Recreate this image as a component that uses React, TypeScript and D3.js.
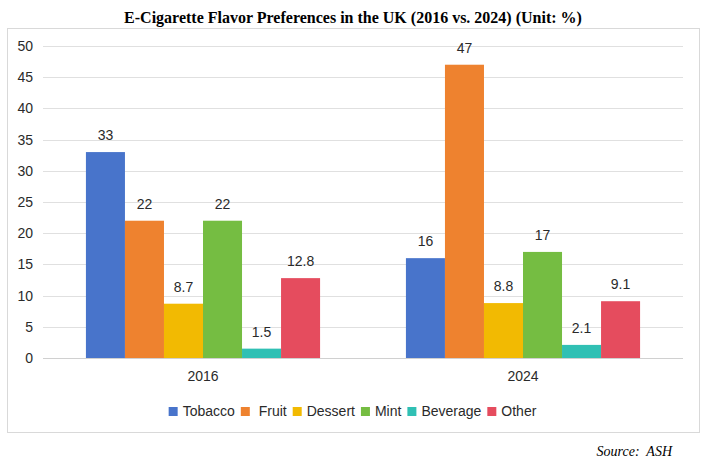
import React, { useEffect, useRef } from "react";
import * as d3 from "d3";

const years = ["2016", "2024"];
const flavors = ["Tobacco", "Fruit", "Dessert", "Mint", "Beverage", "Other"];
const legendLabels = ["Tobacco", " Fruit", "Dessert", "Mint", "Beverage", "Other"];
const values2016 = [33, 22, 8.7, 22, 1.5, 12.8];
const values2024 = [16, 47, 8.8, 17, 2.1, 9.1];
const seriesByYear = [values2016, values2024];
const colors = ["#4874CB", "#EE822F", "#F2BA02", "#75BD42", "#30C0B4", "#E54C5E"];
const yTicks = [0, 5, 10, 15, 20, 25, 30, 35, 40, 45, 50];

const W = 706;
const H = 462;
const sans = "'Liberation Sans', Arial, Helvetica, sans-serif";
const serif = "'Liberation Serif', 'Times New Roman', serif";

export default function App() {
  const ref = useRef<SVGSVGElement | null>(null);

  useEffect(() => {
    document.body.style.margin = "0";
    const svg = d3.select(ref.current);
    svg.selectAll("*").remove();

    const left = 43, right = 683, top = 46, bottom = 358;
    const y = d3.scaleLinear().domain([0, 50]).range([bottom, top]);
    const x0 = d3.scaleBand<string>().domain(years).range([left, right]).padding(0);
    const x1 = d3
      .scaleBand<string>()
      .domain(flavors)
      .range([0, x0.bandwidth()])
      .paddingInner(0)
      .paddingOuter(1.1);

    svg.append("rect").attr("width", W).attr("height", H).attr("fill", "#fff");

    svg
      .append("rect")
      .attr("x", 7.5)
      .attr("y", 28.5)
      .attr("width", 692)
      .attr("height", 404)
      .attr("fill", "none")
      .attr("stroke", "#d9d9d9");

    svg
      .append("text")
      .attr("x", W / 2)
      .attr("y", 23)
      .attr("text-anchor", "middle")
      .attr("font-family", serif)
      .attr("font-weight", "bold")
      .attr("font-size", 16)
      .attr("fill", "#000")
      .text("E-Cigarette Flavor Preferences in the UK (2016 vs. 2024) (Unit: %)");

    const g = svg.append("g");
    g.selectAll("line.grid")
      .data(yTicks)
      .join("line")
      .attr("x1", left)
      .attr("x2", right)
      .attr("y1", (d) => Math.round(y(d)) + 0.5)
      .attr("y2", (d) => Math.round(y(d)) + 0.5)
      .attr("stroke", (d) => (d === 0 ? "#d0d0d0" : "#e0e0e0"))
      .attr("stroke-width", 1);

    g.selectAll("text.ytick")
      .data(yTicks)
      .join("text")
      .attr("x", 33)
      .attr("y", (d) => y(d) + 5)
      .attr("text-anchor", "end")
      .attr("font-family", sans)
      .attr("font-size", 14)
      .attr("fill", "#2a2a2a")
      .text((d) => String(d));

    years.forEach((yr, yi) => {
      const grp = svg.append("g").attr("transform", `translate(${x0(yr)},0)`);
      const vals = seriesByYear[yi];
      grp
        .selectAll("rect")
        .data(flavors)
        .join("rect")
        .attr("x", (f) => x1(f) as number)
        .attr("width", x1.bandwidth())
        .attr("y", (_, i) => y(vals[i]))
        .attr("height", (_, i) => bottom - y(vals[i]))
        .attr("fill", (_, i) => colors[i]);
      grp
        .selectAll("text")
        .data(flavors)
        .join("text")
        .attr("x", (f) => (x1(f) as number) + x1.bandwidth() / 2)
        .attr("y", (_, i) => y(vals[i]) - 12)
        .attr("text-anchor", "middle")
        .attr("font-family", sans)
        .attr("font-size", 14)
        .attr("fill", "#2a2a2a")
        .text((_, i) => String(vals[i]));
      svg
        .append("text")
        .attr("x", (x0(yr) as number) + x0.bandwidth() / 2)
        .attr("y", 381)
        .attr("text-anchor", "middle")
        .attr("font-family", sans)
        .attr("font-size", 14)
        .attr("fill", "#2a2a2a")
        .text(yr);
    });

    const lg = svg.append("g");
    const items = lg.selectAll("g").data(legendLabels).join("g");
    items
      .append("rect")
      .attr("width", 9)
      .attr("height", 9)
      .attr("y", 407)
      .attr("fill", (_, i) => colors[i]);
    items
      .append("text")
      .attr("x", 14)
      .attr("y", 416)
      .attr("font-family", sans)
      .attr("font-size", 14)
      .attr("fill", "#2a2a2a")
      .style("white-space", "pre")
      .text((d) => d);
    let cx = 0;
    const offsets: number[] = [];
    items.each(function () {
      const t = d3.select(this).select("text").node() as SVGTextElement;
      const w = t.getComputedTextLength();
      offsets.push(cx);
      cx += 14 + w + 6;
    });
    const total = cx - 6;
    const start = 352.5 - total / 2;
    items.attr("transform", (_, i) => `translate(${start + offsets[i]},0)`);

    svg
      .append("text")
      .attr("x", 672)
      .attr("y", 456)
      .attr("text-anchor", "end")
      .attr("font-family", serif)
      .attr("font-style", "italic")
      .attr("font-size", 14)
      .attr("fill", "#000")
      .style("white-space", "pre")
      .text("Source:  ASH");
  }, []);

  return <svg ref={ref} width={W} height={H} style={{ display: "block" }} />;
}
